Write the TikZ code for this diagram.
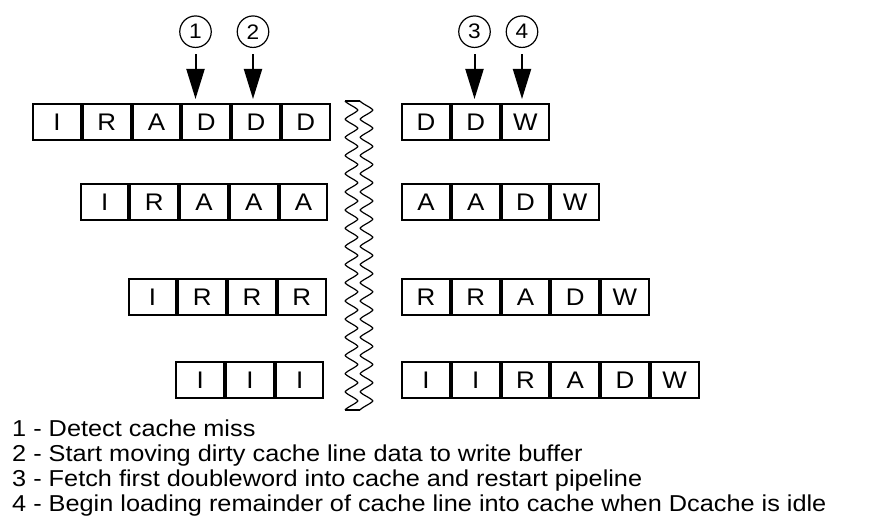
\documentclass[tikz,border=0pt]{standalone}
\usepackage{fontspec}
\setmainfont[FakeStretch=1.08]{Liberation Sans}
\newfontfamily\legendfont[FakeStretch=1.1]{Liberation Sans}
\usetikzlibrary{arrows.meta, positioning}

\begin{document}
\begin{tikzpicture}[
    x=1pt, y=-1pt,
    cell/.style={draw, line width=2pt, minimum width=47.75pt, minimum height=36pt,
                inner sep=0pt, font=\fontsize{24}{24}\selectfont},
    num/.style={draw, circle, line width=1.2pt, minimum size=31.5pt, inner sep=0pt,
               font=\fontsize{21}{21}\selectfont},
    arrow/.style={-{Triangle[length=30pt, width=18pt]}, line width=2pt},
    wave/.style={line width=1.2pt, line join=round},
    note/.style={anchor=base west, inner sep=0pt, font=\legendfont\fontsize{23}{25}\selectfont}
]
\useasboundingbox (0,0) rectangle (869,518);

\node[cell] (a1) at (56.9,122) {I};
\node[cell, right=0pt of a1] (a2) {R};
\node[cell, right=0pt of a2] (a3) {A};
\node[cell, right=0pt of a3] (a4) {D};
\node[cell, right=0pt of a4] (a5) {D};
\node[cell, right=0pt of a5] (a6) {D};

\node[cell] (b2) at (104.6,202) {I};
\node[cell, right=0pt of b2] (b3) {R};
\node[cell, right=0pt of b3] (b4) {A};
\node[cell, right=0pt of b4] (b5) {A};
\node[cell, right=0pt of b5] (b6) {A};

\node[cell] (c3) at (152.4,297) {I};
\node[cell, right=0pt of c3] (c4) {R};
\node[cell, right=0pt of c4] (c5) {R};
\node[cell, right=0pt of c5] (c6) {R};

\node[cell] (d4) at (200.1,380) {I};
\node[cell, right=0pt of d4] (d5) {I};
\node[cell, right=0pt of d5] (d6) {I};

\node[cell] (e1) at (425.9,122) {D};
\node[cell, right=0pt of e1] (e2) {D};
\node[cell, right=0pt of e2] (e3) {W};

\node[cell] (f1) at (425.9,202) {A};
\node[cell, right=0pt of f1] (f2) {A};
\node[cell, right=0pt of f2] (f3) {D};
\node[cell, right=0pt of f3] (f4) {W};

\node[cell] (g1) at (425.9,297) {R};
\node[cell, right=0pt of g1] (g2) {R};
\node[cell, right=0pt of g2] (g3) {A};
\node[cell, right=0pt of g3] (g4) {D};
\node[cell, right=0pt of g4] (g5) {W};

\node[cell] (h1) at (425.9,380) {I};
\node[cell, right=0pt of h1] (h2) {I};
\node[cell, right=0pt of h2] (h3) {R};
\node[cell, right=0pt of h3] (h4) {A};
\node[cell, right=0pt of h4] (h5) {D};
\node[cell, right=0pt of h5] (h6) {W};

\node[num] (n1) at (195.5,31.7) {1};
\node[num] (n2) at (253,31.7) {2};
\node[num] (n3) at (474.5,31.7) {3};
\node[num] (n4) at (522,31.7) {4};
\draw[arrow, shorten <=6pt, shorten >=4pt] (n1.south) -- (n1.south |- a4.north);
\draw[arrow, shorten <=6pt, shorten >=4pt] (n2.south) -- (n2.south |- a5.north);
\draw[arrow, shorten <=6pt, shorten >=4pt] (n3.south) -- (n3.south |- e2.north);
\draw[arrow, shorten <=6pt, shorten >=4pt] (n4.south) -- (n4.south |- e3.north);

% break mark between the two halves
\draw[wave] plot[variable=\t, domain=0:309, samples=600]
    ({351.5-6.5*(0.4*cos(\t*19.806)+0.6*asin(cos(\t*19.806))/90)}, {101+\t});
\draw[wave] plot[variable=\t, domain=0:309, samples=600]
    ({366.5-6.5*(0.4*cos(\t*19.806)+0.6*asin(cos(\t*19.806))/90)}, {101+\t});
\draw[wave] (345,101) -- (360,101);
\draw[wave] (345,410) -- (360,410);

\node[note] (k1) at (12,436) {1 - Detect cache miss};
\node[note] (k2) at (12,461) {2 - Start moving dirty cache line data to write buffer};
\node[note] (k3) at (12,486) {3 - Fetch first doubleword into cache and restart pipeline};
\node[note] (k4) at (12,511) {4 - Begin loading remainder of cache line into cache when Dcache is idle};
\end{tikzpicture}
\end{document}
